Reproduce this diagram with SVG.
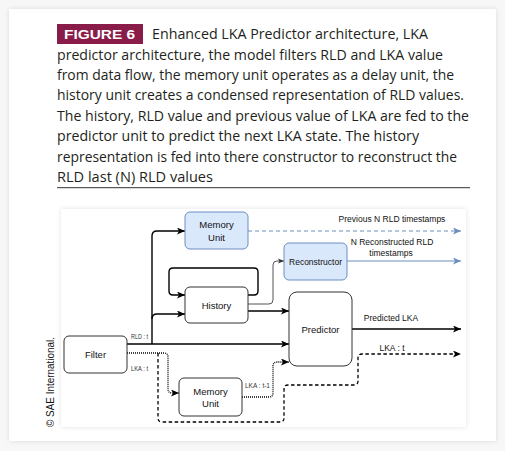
<svg xmlns="http://www.w3.org/2000/svg" width="505" height="451" viewBox="0 0 505 451">
<defs>
<filter id="sh" x="-5%" y="-5%" width="110%" height="110%">
<feGaussianBlur in="SourceAlpha" stdDeviation="2.5"/>
<feComponentTransfer><feFuncA type="linear" slope="0.12"/></feComponentTransfer>
<feMerge><feMergeNode/><feMergeNode in="SourceGraphic"/></feMerge>
</filter>
<marker id="ab" markerUnits="userSpaceOnUse" markerWidth="9" markerHeight="7" refX="8" refY="3.5" orient="auto">
<path d="M0,0 L8,3.5 L0,7 L2,3.5 z" fill="#000"/>
</marker>
<marker id="ablue" markerUnits="userSpaceOnUse" markerWidth="9" markerHeight="7" refX="8" refY="3.5" orient="auto">
<path d="M0,0 L8,3.5 L0,7 L2,3.5 z" fill="#6c8ebf"/>
</marker>
<marker id="asm" markerUnits="userSpaceOnUse" markerWidth="7" markerHeight="6" refX="6" refY="3" orient="auto">
<path d="M0,0.5 L6,3 L0,5.5 L1.5,3 z" fill="#333"/>
</marker>
</defs>
<style>
.cap{font-family:"Open Sans","Liberation Sans",sans-serif;font-size:14px;fill:#231f20}
.nd{fill:#fff;stroke:#333;stroke-width:1}
.bl{fill:#dae8fc;stroke:#6c8ebf;stroke-width:1}
.lbl{font-family:"Liberation Sans",Arial,sans-serif;font-size:9.5px;fill:#111;text-anchor:middle}
.sm{font-family:"Liberation Sans",Arial,sans-serif;font-size:6.5px;fill:#333}
.el{font-family:"Liberation Sans",Arial,sans-serif;font-size:8.5px;fill:#111;text-anchor:middle}
.c{fill:none;stroke:#000;stroke-width:1.4}
</style>
<rect x="0" y="0" width="505" height="451" fill="#f7f7f7"/>
<rect x="9" y="9" width="487" height="432" fill="#fff" filter="url(#sh)"/>
<rect x="57" y="24" width="86" height="20" fill="#8a1c4a"/>
<text x="64" y="39" font-family="'Liberation Sans',Arial,sans-serif" font-weight="bold" font-size="12.5" fill="#fff" textLength="71" lengthAdjust="spacingAndGlyphs">FIGURE 6</text>
<text class="cap" x="152" y="39" textLength="276" lengthAdjust="spacingAndGlyphs">Enhanced LKA Predictor architecture, LKA</text>
<text class="cap" x="57" y="59.5" textLength="386" lengthAdjust="spacingAndGlyphs">predictor architecture, the model filters RLD and LKA value</text>
<text class="cap" x="57" y="80" textLength="397" lengthAdjust="spacingAndGlyphs">from data flow, the memory unit operates as a delay unit, the</text>
<text class="cap" x="57" y="100.3" textLength="407" lengthAdjust="spacingAndGlyphs">history unit creates a condensed representation of RLD values.</text>
<text class="cap" x="57" y="120.7" textLength="412" lengthAdjust="spacingAndGlyphs">The history, RLD value and previous value of LKA are fed to the</text>
<text class="cap" x="57" y="141.1" textLength="362" lengthAdjust="spacingAndGlyphs">predictor unit to predict the next LKA state. The history</text>
<text class="cap" x="57" y="161.5" textLength="400" lengthAdjust="spacingAndGlyphs">representation is fed into there constructor to reconstruct the</text>
<text class="cap" x="57" y="181.9" textLength="156" lengthAdjust="spacingAndGlyphs">RLD last (N) RLD values</text>
<line x1="57" y1="187.7" x2="470" y2="187.7" stroke="#333" stroke-width="1"/>
<text transform="translate(54,427) rotate(-90)" font-family="'Liberation Sans',Arial,sans-serif" font-size="10.5" fill="#111" textLength="90" lengthAdjust="spacingAndGlyphs">© SAE International.</text>
<rect x="61" y="209" width="405" height="218" fill="#fff" filter="url(#sh)"/>
<g id="connectors">
<path class="c" d="M127,344 H289" marker-end="url(#ab)"/>
<path class="c" d="M152,344 V236 Q152,231 157,231 H185" marker-end="url(#ab)"/>
<path class="c" d="M152,319 Q152,314 157,314 H185" marker-end="url(#ab)"/>
<path class="c" d="M248,295 H254 Q258,295 258,291 V272 Q258,268 254,268 H173 Q169,268 169,272 V291 Q169,295 173,295 H185" marker-end="url(#ab)"/>
<path d="M248,304 H269 Q273,304 273,300 V265 Q273,261 277,261 H284" fill="none" stroke="#555" stroke-width="1" marker-end="url(#asm)"/>
<path class="c" d="M248,311 H289" marker-end="url(#ab)"/>
<path d="M248,231 H461" fill="none" stroke="#6c8ebf" stroke-width="1.2" stroke-dasharray="4 3" marker-end="url(#ablue)"/>
<path d="M347,261 H461" fill="none" stroke="#6c8ebf" stroke-width="1.2" marker-end="url(#ablue)"/>
<path class="c" d="M352,329 H461" marker-end="url(#ab)"/>
<path d="M127,353 H164 Q168,353 168,357 V389 Q168,393 172,393 H179" fill="none" stroke="#000" stroke-width="1.3" stroke-dasharray="1 1" marker-end="url(#ab)"/>
<path d="M158,353 V418 Q158,422 162,422 H280 Q284,422 284,418 V389 Q284,385 288,385 H354 Q358,385 358,381 V358 Q358,354 362,354 H461" fill="none" stroke="#000" stroke-width="1.3" stroke-dasharray="3.5 2.5" marker-end="url(#ab)"/>
<path d="M242,397 H269 Q273,397 273,393 V366 Q273,362 277,362 H289" fill="none" stroke="#000" stroke-width="1.3" stroke-dasharray="1 1" marker-end="url(#ab)"/>
<text class="sm" x="131" y="339" textLength="17" lengthAdjust="spacingAndGlyphs">RLD : t</text>
<text class="sm" x="131" y="371" textLength="17" lengthAdjust="spacingAndGlyphs">LKA : t</text>
<text class="sm" x="245" y="387.5" textLength="25" lengthAdjust="spacingAndGlyphs">LKA : t-1</text>
<text class="el" x="392" y="222">Previous N RLD timestamps</text>
<text class="el" x="392" y="245">N Reconstructed RLD</text>
<text class="el" x="391" y="256">timestamps</text>
<text class="el" x="391" y="321">Predicted LKA</text>
<text class="el" x="392" y="351" font-size="11">LKA : t</text>
</g>
<g id="memory-top">
<rect class="bl" x="185" y="212" width="63" height="37" rx="5"/>
<text class="lbl" x="216.5" y="228">Memory</text>
<text class="lbl" x="216.5" y="241">Unit</text>
</g>
<g id="reconstructor">
<rect class="bl" x="284" y="243" width="63" height="37" rx="5"/>
<text class="lbl" x="315.5" y="265" textLength="53" lengthAdjust="spacingAndGlyphs">Reconstructor</text>
</g>
<g id="history">
<rect class="nd" x="185" y="287" width="63" height="36" rx="5"/>
<text class="lbl" x="216.5" y="308.5">History</text>
</g>
<g id="predictor">
<rect class="nd" x="289" y="292" width="63" height="74" rx="8"/>
<text class="lbl" x="320.5" y="332.5">Predictor</text>
</g>
<g id="filter">
<rect class="nd" x="64" y="336" width="63" height="37" rx="5"/>
<text class="lbl" x="95.5" y="357.5">Filter</text>
</g>
<g id="memory-bottom">
<rect class="nd" x="179" y="378" width="63" height="38" rx="5"/>
<text class="lbl" x="210.5" y="394.5">Memory</text>
<text class="lbl" x="210.5" y="407">Unit</text>
</g>
</svg>
